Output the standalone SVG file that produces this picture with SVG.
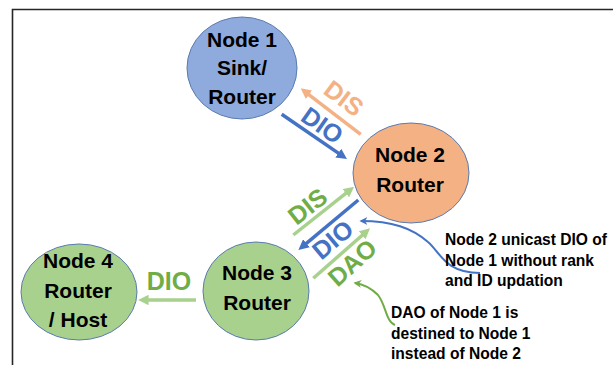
<svg xmlns="http://www.w3.org/2000/svg" width="613" height="365" viewBox="0 0 613 365">
<style>
.frame{stroke:#262626;stroke-width:1.6;fill:none}
.node ellipse{stroke:#5a7bb0;stroke-width:1}
.nt{font-family:"Liberation Sans",Arial,sans-serif;font-weight:bold;font-size:21px;fill:#000;text-anchor:middle}
.lbl{font-family:"Liberation Sans",Arial,sans-serif;font-weight:bold;font-size:25px;text-anchor:middle}
.note{font-family:"Liberation Sans",Arial,sans-serif;font-weight:bold;font-size:15.6px;fill:#000}
.arr{fill:none;stroke-width:3.5}
.cur{fill:none;stroke-width:2}
</style>
<defs>
<marker id="hb" viewBox="0 0 10 10" refX="3" refY="5" markerWidth="3" markerHeight="3" orient="auto"><path d="M0,0 L10,5 L0,10 z" fill="#4472c4"/></marker>
<marker id="ho" viewBox="0 0 10 10" refX="3" refY="5" markerWidth="3" markerHeight="3" orient="auto"><path d="M0,0 L10,5 L0,10 z" fill="#f4b183"/></marker>
<marker id="hg" viewBox="0 0 10 10" refX="3" refY="5" markerWidth="3" markerHeight="3" orient="auto"><path d="M0,0 L10,5 L0,10 z" fill="#a9d18e"/></marker>
<marker id="cb" viewBox="0 0 10 10" refX="8" refY="5" markerWidth="4" markerHeight="4" orient="auto"><path d="M0,0 L10,5 L0,10 L3,5 z" fill="#4472c4"/></marker>
<marker id="cg" viewBox="0 0 10 10" refX="8" refY="5" markerWidth="4" markerHeight="4" orient="auto"><path d="M0,0 L10,5 L0,10 L3,5 z" fill="#70ad47"/></marker>
</defs>
<rect width="613" height="365" fill="#fff"/>
<path class="frame" d="M12.5,365 L12.5,9.5 L613,9.5"/>

<g id="node1" class="node">
<ellipse cx="242" cy="68" rx="55" ry="51" fill="#8faadc"/>
<text class="nt" x="242" y="47">Node 1</text>
<text class="nt" x="242" y="75">Sink/</text>
<text class="nt" x="242" y="104">Router</text>
</g>
<g id="node2" class="node">
<ellipse cx="411" cy="173" rx="58" ry="50" fill="#f4b183"/>
<text class="nt" x="410" y="162">Node 2</text>
<text class="nt" x="410" y="192">Router</text>
</g>
<g id="node3" class="node">
<ellipse cx="256" cy="291" rx="53" ry="49" fill="#a9d18e"/>
<text class="nt" x="257" y="280">Node 3</text>
<text class="nt" x="257" y="310">Router</text>
</g>
<g id="node4" class="node">
<ellipse cx="79" cy="292" rx="58" ry="48" fill="#a9d18e"/>
<text class="nt" x="78" y="268">Node 4</text>
<text class="nt" x="78" y="298">Router</text>
<text class="nt" x="78" y="327">/ Host</text>
</g>

<g id="connectors">
<line class="arr" x1="281.7" y1="114.3" x2="340.9" y2="154.9" stroke="#4472c4" marker-end="url(#hb)"/>
<line class="arr" x1="360.7" y1="134.3" x2="306.5" y2="92.8" stroke="#f4b183" marker-end="url(#ho)"/>
<line class="arr" x1="293.3" y1="235" x2="348.3" y2="191.3" stroke="#a9d18e" marker-end="url(#hg)"/>
<line class="arr" x1="358.3" y1="200" x2="304" y2="245.3" stroke="#4472c4" marker-end="url(#hb)"/>
<line class="arr" x1="313.3" y1="278.3" x2="364.5" y2="233.2" stroke="#a9d18e" marker-end="url(#hg)"/>
<line class="arr" x1="196" y1="300" x2="145.4" y2="300" stroke="#a9d18e" marker-end="url(#hg)"/>
<path class="cur" d="M480,273 C445,273 440,252 428,242 C412,228 392,221 361,221" stroke="#4472c4" marker-end="url(#cb)"/>
<path class="cur" d="M395,325 C386,322 386,305 378,295 C370,287 362,284 355,283" stroke="#70ad47" marker-end="url(#cg)"/>

<text class="lbl" fill="#f4b183" transform="translate(344,98) rotate(37)" y="9">DIS</text>
<text class="lbl" fill="#4472c4" transform="translate(322.5,125) rotate(35)" y="9">DIO</text>
<text class="lbl" fill="#70ad47" transform="translate(307.5,206) rotate(-38)" y="9">DIS</text>
<text class="lbl" fill="#4472c4" transform="translate(332.5,239.5) rotate(-40)" y="9">DIO</text>
<text class="lbl" fill="#70ad47" transform="translate(352,262.5) rotate(-42)" y="9">DAO</text>
<text class="lbl" fill="#70ad47" x="169" y="290">DIO</text>
</g>

<g id="note1">
<text class="note" x="445" y="245">Node 2 unicast DIO of</text>
<text class="note" x="445" y="266">Node 1 without rank</text>
<text class="note" x="445" y="286">and ID updation</text>
</g>
<g id="note2">
<text class="note" x="391" y="318">DAO of Node 1 is</text>
<text class="note" x="391" y="339">destined to Node 1</text>
<text class="note" x="391" y="359">instead of Node 2</text>
</g>
</svg>
